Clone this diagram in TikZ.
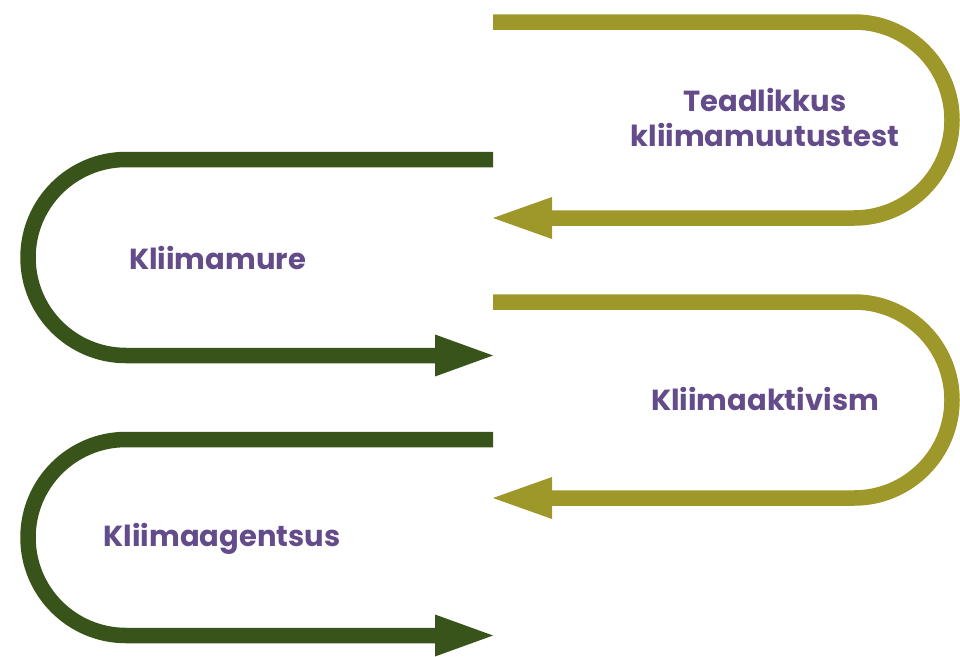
\documentclass[tikz,border=0pt]{standalone}
\usepackage{fontspec}
\setmainfont{Poppins}[BoldFont={* Bold}]
\definecolor{olivec}{HTML}{9E982A}
\definecolor{greenc}{HTML}{38541A}
\definecolor{purplec}{HTML}{644B8A}
\tikzset{
  band/.style={line width=15.5pt, line cap=butt, line join=round},
  olivepath/.style={band, draw=olivec},
  greenpath/.style={band, draw=greenc},
  label/.style={text=purplec, font=\bfseries\fontsize{29}{35}\selectfont, inner sep=0pt, align=center}
}
\begin{document}
\begin{tikzpicture}[x=1pt,y=-1pt]
\useasboundingbox (0,0) rectangle (960,656);
% olive path 1
\coordinate (o1s) at (493,22);
\coordinate (o1e) at (493,218);
\draw[olivepath] (o1s) -- (854,22) arc[start angle=-90, end angle=90, radius=98] -- (545,218);
\fill[olivec] (o1e) -- (552,197) -- (552,239) -- cycle;
% green path 1
\coordinate (g1s) at (493,159.5);
\coordinate (g1e) at (493,355.5);
\draw[greenpath] (g1s) -- (126,159.5) arc[start angle=-90, end angle=-270, radius=98] -- (442,355.5);
\fill[greenc] (g1e) -- (435,334.5) -- (435,376.5) -- cycle;
% olive path 2
\coordinate (o2s) at (493,302);
\coordinate (o2e) at (493,498);
\draw[olivepath] (o2s) -- (854,302) arc[start angle=-90, end angle=90, radius=98] -- (545,498);
\fill[olivec] (o2e) -- (552,477) -- (552,519) -- cycle;
% green path 2
\coordinate (g2s) at (493,439.5);
\coordinate (g2e) at (493,635.5);
\draw[greenpath] (g2s) -- (126,439.5) arc[start angle=-90, end angle=-270, radius=98] -- (442,635.5);
\fill[greenc] (g2e) -- (435,614.5) -- (435,656.5) -- cycle;
% labels
\node[label, anchor=base] (t1) at (765,146) {Teadlikkus\\kliimamuutustest};
\node[label, anchor=base] (t2) at (217.5,269) {Kliimamure};
\node[label, anchor=base] (t3) at (765,410) {Kliimaaktivism};
\node[label, anchor=base] (t4) at (222,546) {Kliimaagentsus};
\end{tikzpicture}
\end{document}
